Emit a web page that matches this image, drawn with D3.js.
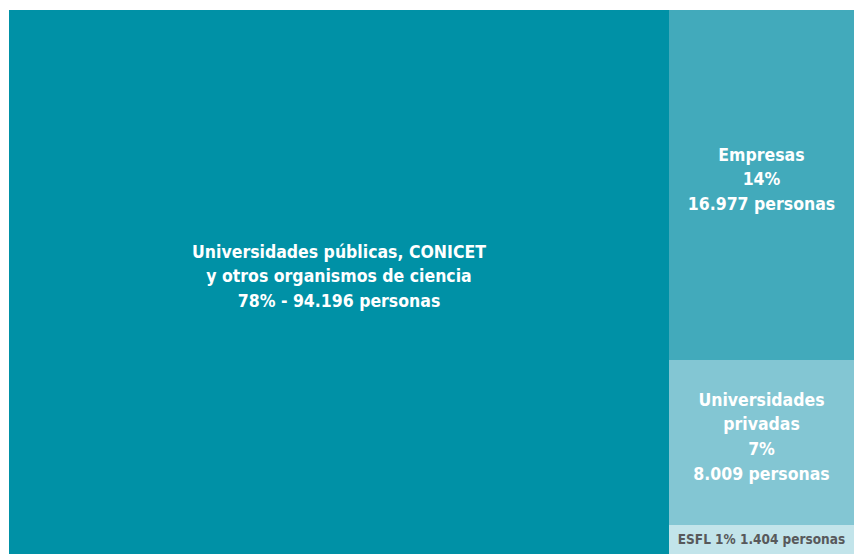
<!DOCTYPE html>
<html>
<head>
<meta charset="utf-8">
<script src="https://cdn.jsdelivr.net/npm/d3@7"></script>
<style>
  html, body { margin: 0; padding: 0; background: #ffffff; }
  svg { display: block; }
</style>
</head>
<body>
<svg id="chart" width="854" height="554"></svg>
<script>
// ---- data ----
const categories = ["Universidades públicas, CONICET y otros organismos de ciencia", "Empresas", "Universidades privadas", "ESFL"];
const personas = [94196, 16977, 8009, 1404];
const percents = ["78%", "14%", "7%", "1%"];
const labelLines = [
  ["Universidades públicas, CONICET", "y otros organismos de ciencia", "78% - 94.196 personas"],
  ["Empresas", "14%", "16.977 personas"],
  ["Universidades", "privadas", "7%", "8.009 personas"],
  ["ESFL 1% 1.404 personas"]
];
const colors = ["#0091a6", "#42aabb", "#83c6d3", "#c2e4ea"];
const textColors = ["#ffffff", "#ffffff", "#ffffff", "#58595b"];

// ---- layout ----
const svg = d3.select("#chart");
const x0 = 9, y0 = 10, W = 845, H = 544;

const rootData = {
  name: "root",
  children: categories.map((c, i) => ({ name: c, value: personas[i], idx: i }))
};
const root = d3.hierarchy(rootData).sum(d => d.value || 0);
d3.treemap().size([W, H]).tile(d3.treemapSquarify).round(true)(root);

const g = svg.append("g").attr("transform", `translate(${x0},${y0})`);
const cells = g.selectAll("g.cell").data(root.leaves()).join("g").attr("class", "cell");

cells.append("rect")
  .attr("x", d => d.x0).attr("y", d => d.y0)
  .attr("width", d => d.x1 - d.x0).attr("height", d => d.y1 - d.y0)
  .attr("fill", d => colors[d.data.idx]);

cells.each(function(d) {
  const i = d.data.idx;
  const lines = labelLines[i];
  const small = i === 3;
  const fs = small ? 13.5 : 17.5;
  const lh = small ? 14 : 24.8;
  const cx = (d.x0 + d.x1) / 2;
  const cy = (d.y0 + d.y1) / 2 - (small ? 0 : 6);
  const t = d3.select(this).append("text")
    .attr("text-anchor", "middle")
    .attr("font-family", "'DejaVu Sans Condensed', 'DejaVu Sans', sans-serif")
    .attr("font-weight", "bold")
    .attr("font-size", fs)
    .attr("fill", textColors[i]);
  lines.forEach((ln, k) => {
    t.append("tspan")
      .attr("x", cx)
      .attr("y", cy + (k - (lines.length - 1) / 2) * lh)
      .attr("dy", "0.36em")
      .text(ln);
  });
});
</script>
</body>
</html>
